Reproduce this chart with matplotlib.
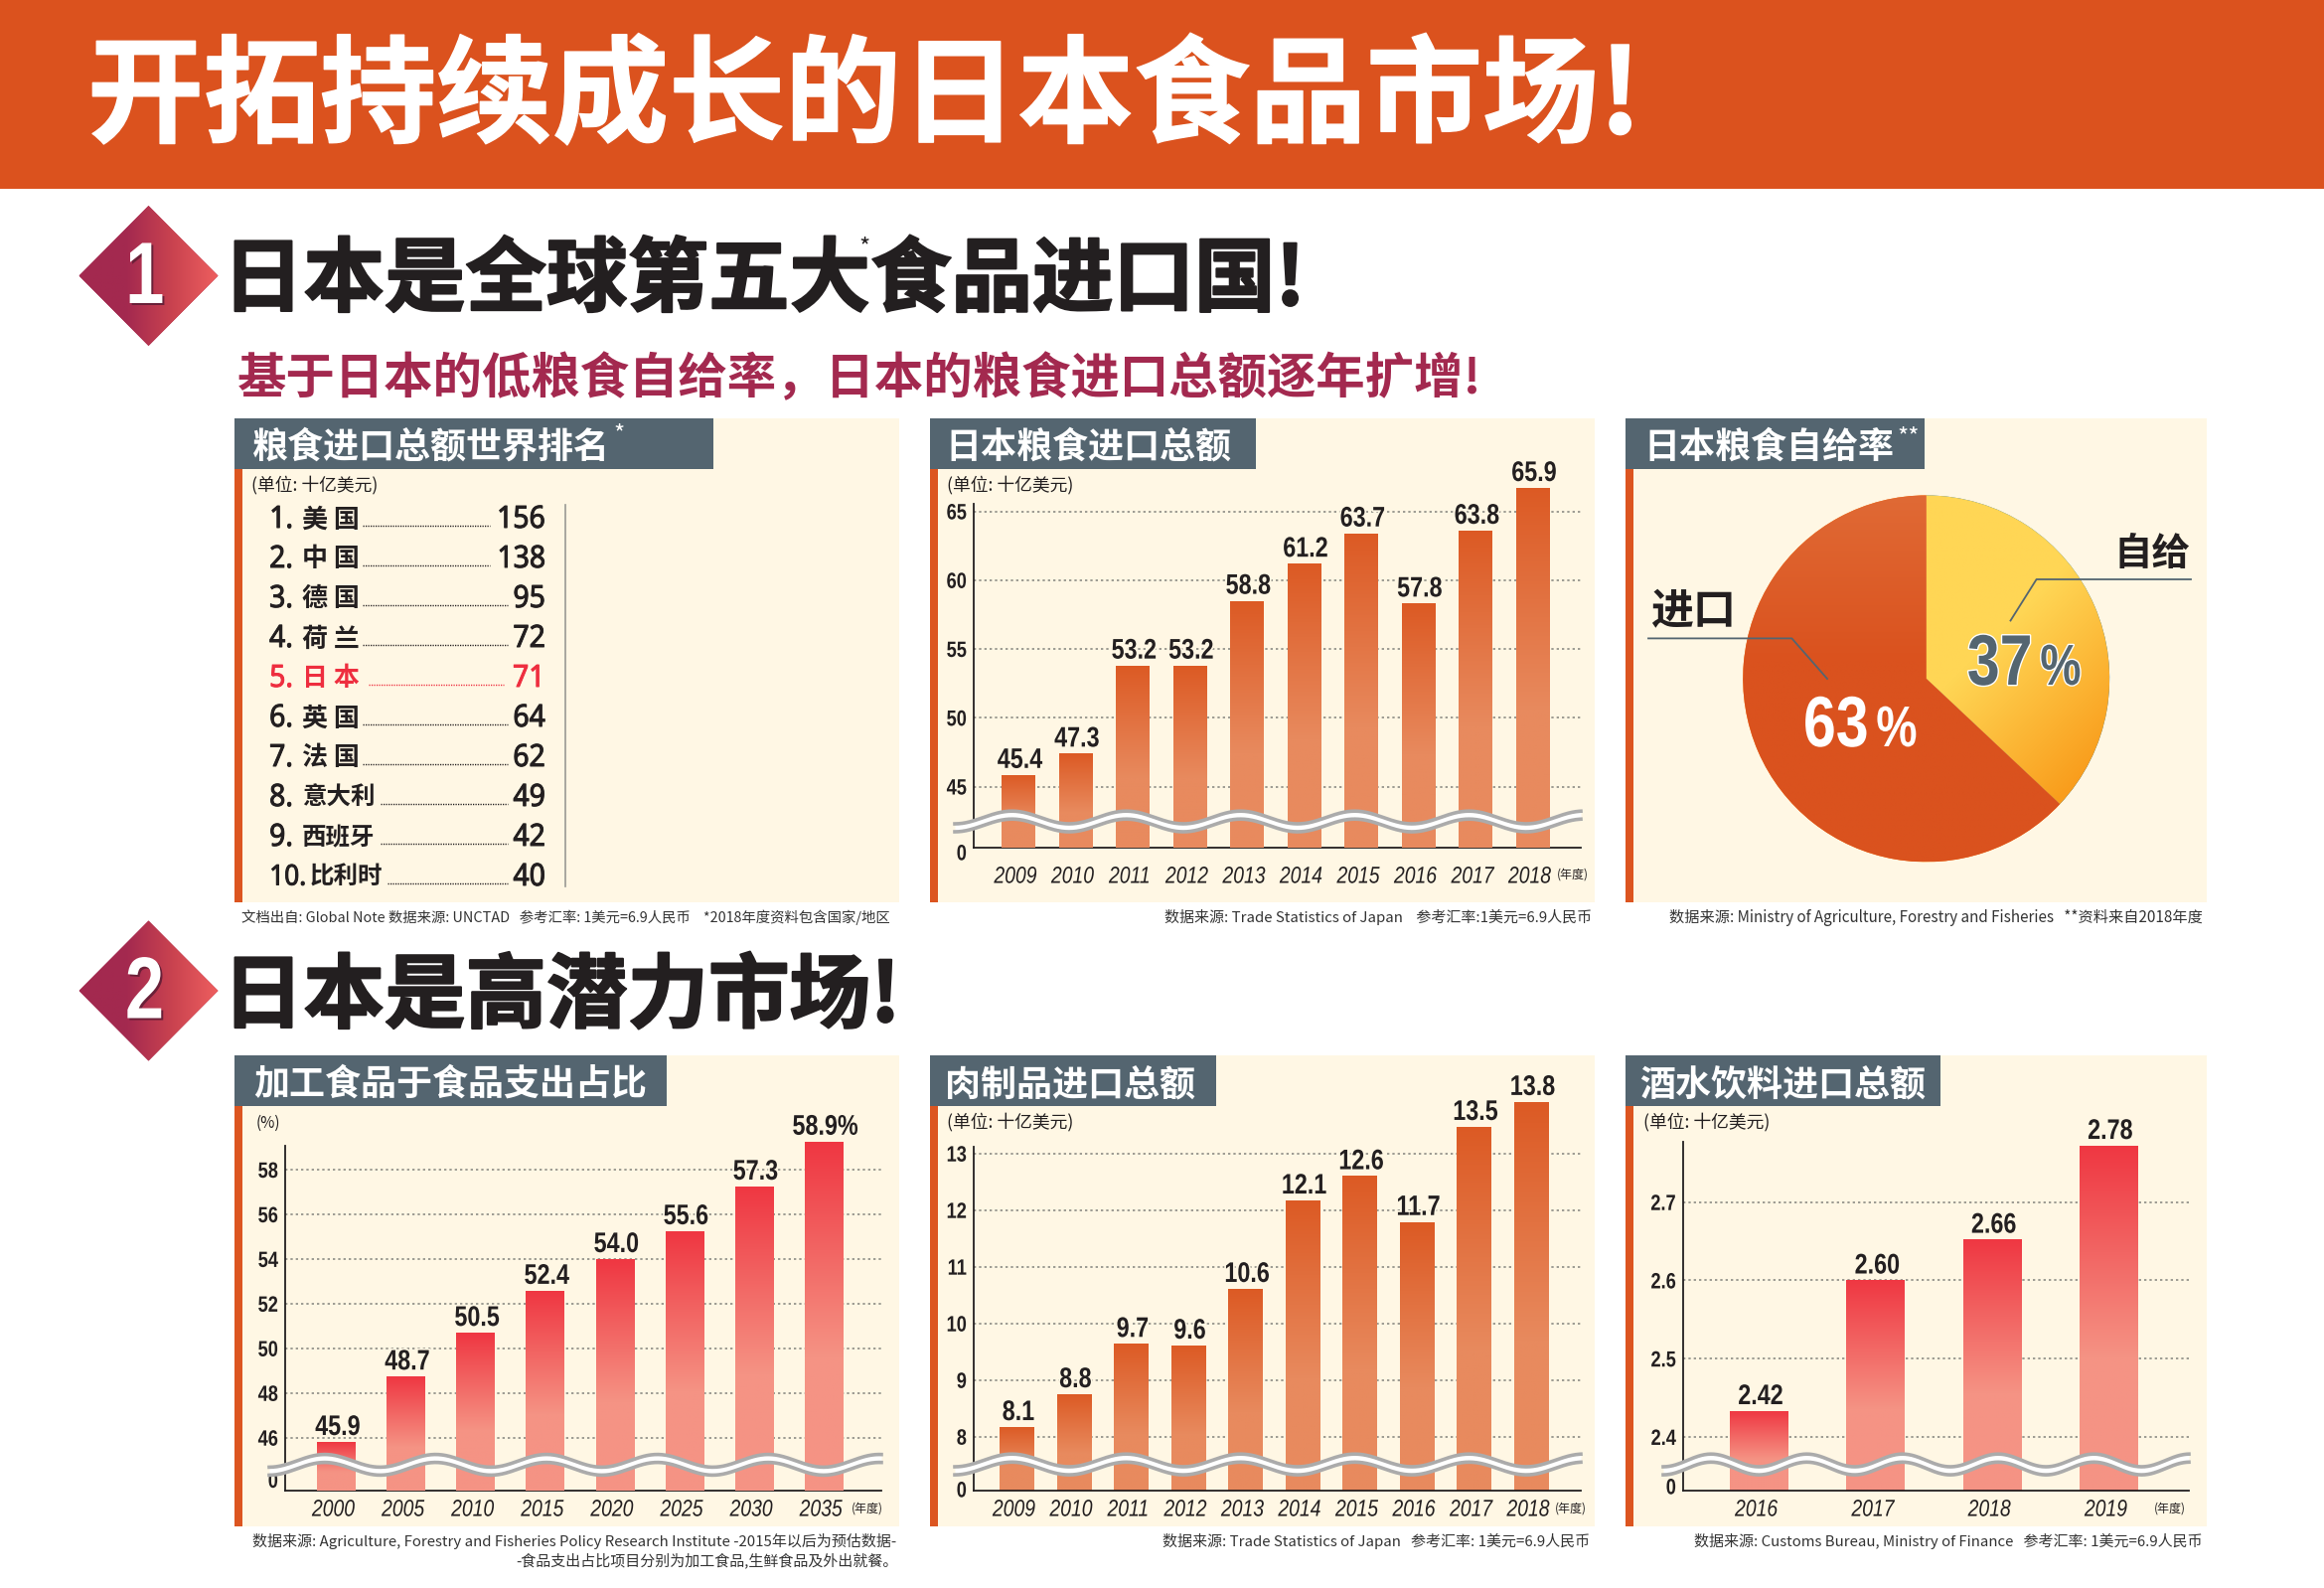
#!/usr/bin/env python3
"""Infographic: Japanese food market, six small panels on one page."""

import matplotlib

matplotlib.use("Agg")
import matplotlib.patheffects as pe
import matplotlib.pyplot as plt
import numpy as np
from matplotlib.colors import LinearSegmentedColormap, to_rgba
from matplotlib.patches import Polygon, Rectangle
from matplotlib.transforms import Affine2D

W, H = 2339, 1598
CJK = ["Noto Sans CJK SC", "DejaVu Sans"]
LIB = ["Liberation Sans", "Noto Sans CJK SC", "DejaVu Sans"]
LATIN = ["Noto Sans", "Noto Sans CJK SC", "DejaVu Sans"]
plt.rcParams["font.family"] = CJK

ORANGE = "#DC5520"
CREAM = "#FFF7E4"
SLATE = "#546570"
DARK = "#231F20"
WINE = "#A3294F"
RED = "#EE2E3F"
DOT_GREY = "#8C8C84"

# ranking panel
rank_labels = ["1.", "2.", "3.", "4.", "5.", "6.", "7.", "8.", "9.", "10."]
rank_names = ["美 国", "中 国", "德 国", "荷 兰", "日 本", "英 国", "法 国", "意大利", "西班牙", "比利时"]
rank_values = [156, 138, 95, 72, 71, 64, 62, 49, 42, 40]

# grain imports
grain_years = ["2009", "2010", "2011", "2012", "2013", "2014", "2015", "2016", "2017", "2018"]
grain_printed = ["45.4", "47.3", "53.2", "53.2", "58.8", "61.2", "63.7", "57.8", "63.8", "65.9"]
grain_bars = [45.85, 47.4, 53.8, 53.8, 58.5, 61.2, 63.4, 58.3, 63.6, 66.7]
grain_ticks = [45, 50, 55, 60, 65]

# self sufficiency
pie_values = [37, 63]

# processed food share
share_years = ["2000", "2005", "2010", "2015", "2020", "2025", "2030", "2035"]
share_printed = ["45.9", "48.7", "50.5", "52.4", "54.0", "55.6", "57.3", "58.9%"]
share_bars = [45.81, 48.74, 50.70, 52.58, 54.0, 55.25, 57.25, 59.26]
share_ticks = [46, 48, 50, 52, 54, 56, 58]

# meat imports
meat_years = grain_years
meat_printed = ["8.1", "8.8", "9.7", "9.6", "10.6", "12.1", "12.6", "11.7", "13.5", "13.8"]
meat_bars = [8.17, 8.75, 9.64, 9.61, 10.61, 12.17, 12.6, 11.79, 13.47, 13.91]
meat_ticks = [8, 9, 10, 11, 12, 13]

# drinks imports
drink_years = ["2016", "2017", "2018", "2019"]
drink_printed = ["2.42", "2.60", "2.66", "2.78"]
drink_bars = [2.433, 2.60, 2.652, 2.772]
drink_ticks = [2.4, 2.5, 2.6, 2.7]

fig = plt.figure(figsize=(W / 100, H / 100), dpi=100, facecolor="white")


class Squeeze(pe.AbstractPathEffect):
    """No condensed font is installed, so narrow the glyph outlines of the text instead."""

    def __init__(self, sx=0.82, anchor=0.5, stroke=None, stroke_lw=0, shadow=None):
        super().__init__()
        self.sx, self.anchor = sx, anchor
        self.stroke, self.stroke_lw, self.shadow = stroke, stroke_lw, shadow

    def draw_path(self, renderer, gc, tpath, affine, rgbFace=None):
        box = tpath.get_extents()
        cx = box.x0 + self.anchor * box.width
        t = Affine2D().translate(-cx, 0).scale(self.sx, 1).translate(cx, 0) + affine
        if self.shadow:
            gc0 = renderer.new_gc()
            gc0.copy_properties(gc)
            renderer.draw_path(gc0, tpath, t + Affine2D().translate(2, -2), to_rgba(self.shadow))
            gc0.restore()
        if self.stroke:
            gc0 = renderer.new_gc()
            gc0.copy_properties(gc)
            gc0.set_linewidth(self.stroke_lw)
            gc0.set_foreground(self.stroke)
            renderer.draw_path(gc0, tpath, t, to_rgba(self.stroke))
            gc0.restore()
        renderer.draw_path(gc, tpath, t, rgbFace)


def px_axes(x0, y0, x1, y1, zorder):
    ax = fig.add_axes([x0 / W, 1 - y1 / H, (x1 - x0) / W, (y1 - y0) / H], zorder=zorder)
    ax.patch.set_alpha(0)
    return ax


def page_axes(zorder):
    ax = px_axes(0, 0, W, H, zorder)
    ax.set_xlim(0, W)
    ax.set_ylim(H, 0)
    ax.axis("off")
    return ax


bg = page_axes(0)
top = page_axes(5)


def put(x, y, s, size_px, family=CJK, color=DARK, ha="left", va="center", weight="normal", **kw):
    return top.text(x, y, s, fontsize=size_px * 0.72, family=family, color=color, ha=ha, va=va,
                    fontweight=weight, **kw)


def panel(x0, x1, y0, y1, head_x1, head_y1, title, text_x):
    bg.add_patch(Rectangle((x0, y0), x1 - x0, y1 - y0, fc=CREAM, ec="none"))
    bg.add_patch(Rectangle((x0, y0), 8, y1 - y0, fc=ORANGE, ec="none"))
    bg.add_patch(Rectangle((x0, y0), head_x1 - x0, head_y1 - y0, fc=SLATE, ec="none"))
    put(text_x, (y0 + head_y1) / 2 + 4, title, 36, color="white", weight="bold")


def diamond(cy, digit):
    cx = 149.5
    pts = [(cx - 70, cy), (cx, cy - 70.5), (cx + 70, cy), (cx, cy + 70.5)]
    shape = Polygon(pts, closed=True, fc=WINE, ec="none", transform=bg.transData)
    bg.add_patch(shape)
    cmap = LinearSegmentedColormap.from_list("d", [WINE, WINE, "#C9424F", "#EE5F5F"])
    im = bg.imshow(np.linspace(0, 1, 128)[None, :], extent=(cx - 70, cx + 70, cy + 71, cy - 71),
                   cmap=cmap, aspect="auto", zorder=2)
    im.set_clip_path(shape)
    put(cx - 4, cy + 5, digit, 88, family=LIB, color="white", ha="center", weight="bold",
        path_effects=[Squeeze(0.8, shadow="#6a2038")])


def wave(x0, x1, y_up, y_low, period):
    xs = np.linspace(x0, x1, 500)
    bend = 6.4 * np.cos(2 * np.pi * (xs - x0) / period)
    top.fill_between(xs, y_up + bend, y_low + bend, color="white", lw=0)
    top.plot(xs, y_up + bend, color="#ABABAB", lw=2.6)
    top.plot(xs, y_low + bend, color="#ABABAB", lw=2.6)


def bar_chart(box, scale, tick_vals, bars, printed, years, cat, colors, year_pad=5.8, zero_up=0, year_shift=-3):
    """box = x0, x1, ytop, baseline, spine top (px); scale = base value, px per unit; cat = first centre, step, width (px)."""
    x0, x1, y_top, baseline, spine_top = box
    base, per_unit = scale
    first, step, width_px = cat
    ax = px_axes(x0, y_top, x1, baseline, 2)
    xlim = ((x0 - first) / step, (x1 - first) / step)
    ylim = (base, base + (baseline - y_top) / per_unit)

    xs = np.arange(len(bars))
    width = width_px / step
    cmap = LinearSegmentedColormap.from_list("b", colors)
    rects = ax.bar(xs, np.array(bars) - base, width, bottom=base, color=colors[0], zorder=2)
    for rect, val in zip(rects, bars):
        fade = np.clip(np.linspace(0, 1, 200) / 0.62, 0, 1)[:, None]
        im = ax.imshow(fade, extent=(rect.get_x(), rect.get_x() + width, base, val), origin="upper",
                       cmap=cmap, vmin=0, vmax=1, aspect="auto", zorder=3)
        im.set_clip_path(rect)

    for x, val, text in zip(xs, bars, printed):
        ax.annotate(text, (x, val), xytext=(1, 5), textcoords="offset points", ha="center", va="baseline",
                    fontsize=20.5, family=LIB, fontweight="bold", color=DARK, zorder=6,
                    annotation_clip=False,
                    path_effects=[Squeeze(0.82, stroke=CREAM, stroke_lw=2.5)])

    ax.hlines(tick_vals, xlim[0], xlim[1], color=DOT_GREY, lw=1.2, ls=(0, (1.4, 1.8)), zorder=1)
    ax.set_yticks(tick_vals, [str(t) for t in tick_vals])
    ax.set_xticks(xs + year_shift / step, years)
    ax.set_xlim(*xlim)
    ax.set_ylim(*ylim)
    ax.tick_params(axis="both", length=0)
    ax.tick_params(axis="y", pad=5)
    ax.tick_params(axis="x", pad=year_pad)
    for lab in ax.get_yticklabels():
        lab.set(fontsize=16, family=LIB, fontweight="bold", color=DARK, path_effects=[Squeeze(0.82, anchor=1)])
    for lab in ax.get_xticklabels():
        lab.set(fontsize=17, family=LIB, style="italic", color=DARK, path_effects=[Squeeze(0.82)])
    # the axis is broken, the foot of the scale reads 0 and its label sits a little off the line
    ax.annotate("0", (0, base), xycoords=("axes fraction", "data"), xytext=(-5, zero_up * 0.72),
                textcoords="offset points", ha="right", va="center", annotation_clip=False,
                fontsize=16, family=LIB, fontweight="bold", color=DARK, path_effects=[Squeeze(0.82, anchor=1)])
    for side in ("top", "right"):
        ax.spines[side].set_visible(False)
    for side in ("left", "bottom"):
        ax.spines[side].set_color(DARK)
        ax.spines[side].set_linewidth(1.3)
    ax.spines["left"].set_bounds(base, base + (baseline - spine_top) / per_unit)
    return ax


# top banner
bg.add_patch(Rectangle((0, 0), W, 190, fc="#DB521E", ec="none"))
put(88, 100, "开拓持续成长的日本食品市场!", 117, color="white", weight="bold",
    path_effects=[pe.withStroke(linewidth=1, foreground="white")])

# section heads
diamond(277.5, "1")
put(224, 283, "日本是全球第五大食品进口国!", 81.5, weight="bold",
    path_effects=[pe.withStroke(linewidth=1.5, foreground=DARK)])
put(864, 249, "*", 24)
put(239, 381, "基于日本的低粮食自给率\uff0c日本的粮食进口总额逐年扩增!", 49.4, color=WINE, weight="bold")
diamond(997, "2")
put(224, 1004, "日本是高潜力市场!", 81.5, weight="bold",
    path_effects=[pe.withStroke(linewidth=1.5, foreground=DARK)])

# panels
panel(236, 905, 421, 908, 718, 472, "粮食进口总额世界排名", 254)
put(617, 437, "*", 24, color="white")
panel(936, 1605, 421, 908, 1264, 472, "日本粮食进口总额", 951)
panel(1636, 2221, 421, 908, 1937, 472, "日本粮食自给率", 1654)
put(1921, 440, "**", 24, color="white", ha="center")
panel(236, 905, 1062, 1536, 671, 1113, "加工食品于食品支出占比", 255)
panel(936, 1605, 1062, 1536, 1224, 1113, "肉制品进口总额", 951)
panel(1636, 2221, 1062, 1536, 1953, 1113, "酒水饮料进口总额", 1650)

# ranking list
put(253, 488, "(单位: 十亿美元)", 17.8)
lead_start = [365, 365, 365, 365, 371, 365, 365, 383, 383, 390]
name_x = [304, 304, 304, 304, 304, 304, 304, 304, 304, 312]
for i, (rk, name, val) in enumerate(zip(rank_labels, rank_names, rank_values)):
    y = 523 + i * 40
    col = RED if i == 4 else DARK
    put(271, y, rk, 30.8 if i < 9 else 28.5, family=LATIN, color=col,
        path_effects=[Squeeze(0.92, anchor=0, stroke=col, stroke_lw=0.7)])
    put(name_x[i], y, name, 26 if i < 7 else 24.5, color=col, weight="bold")
    put(549, y, str(val), 30.8, family=LATIN, color=col, ha="right",
        path_effects=[Squeeze(0.92, anchor=1, stroke=col, stroke_lw=0.7)])
    lead_end = 493 if val > 99 else (507 if i == 4 else 511)
    top.plot([lead_start[i], lead_end], [y + 6, y + 6], color=col, lw=1, ls=(0, (0.9, 0.9)))
top.plot([569, 569], [508, 892], color="#9a9a94", lw=1.2)

# bar panels
ORANGE_BAR = ["#DC5A24", "#E88A5E"]
RED_BAR = ["#EF3742", "#F59384"]
bar_chart((980, 1591, 470, 853, 507), (40.56, 13.85), grain_ticks, grain_bars, grain_printed, grain_years,
          (1025, 57.5, 34), ORANGE_BAR, year_pad=12.6, zero_up=-7)
bar_chart((287, 887, 1090, 1499.5, 1153), (43.65, 22.47), share_ticks, share_bars, share_printed, share_years,
          (338.5, 70.1, 38.8), RED_BAR, zero_up=8)
bar_chart((980, 1591, 1090, 1499.5, 1153.5), (7.056, 57.0), meat_ticks, meat_bars, meat_printed, meat_years,
          (1023.5, 57.5, 35), ORANGE_BAR, zero_up=-1.5)
bar_chart((1694, 2203, 1090, 1499.5, 1148.6), (2.332, 787.5), drink_ticks, drink_bars, drink_printed, drink_years,
          (1770.6, 117.3, 59), RED_BAR, zero_up=1.5)

wave(961, 1591, 822.6, 830.6, 115)
wave(271, 887, 1470, 1478, 111.6)
wave(961, 1591, 1469.6, 1477.7, 115)
wave(1674, 2203, 1469.6, 1477.7, 96.3)

put(953, 488, "(单位: 十亿美元)", 17.8)
put(953, 1129, "(单位: 十亿美元)", 17.8)
put(1654, 1129, "(单位: 十亿美元)", 17.8)
put(270, 1130, "(%)", 15.5, ha="center")
put(1583, 880, "(年度)", 12, ha="center")
put(873, 1518, "(年度)", 12, ha="center")
put(1581, 1518, "(年度)", 12, ha="center")
put(2183.5, 1518, "(年度)", 12, ha="center")

# pie
pie_ax = px_axes(1938.7 - 230.6, 682.9 - 230.6, 1938.7 + 230.6, 682.9 + 230.6, 2)
wedges, _ = pie_ax.pie(pie_values, startangle=90, counterclock=False, radius=1)
gx, gy = np.meshgrid(np.linspace(-1, 1, 300), np.linspace(-1, 1, 300))
fade_y = np.clip((gx - gy - 0.15) / 1.25, 0, 1)
fade_o = np.clip((gy - 0.1) / 0.9, 0, 1)
im_y = pie_ax.imshow(fade_y, extent=(-1, 1, -1, 1), origin="lower", aspect="auto", vmin=0, vmax=1, zorder=3,
                     cmap=LinearSegmentedColormap.from_list("y", ["#FFD655", "#F99D1C"]))
im_o = pie_ax.imshow(fade_o, extent=(-1, 1, -1, 1), origin="lower", aspect="auto", vmin=0, vmax=1, zorder=3,
                     cmap=LinearSegmentedColormap.from_list("o", ["#DA521E", "#E06A35"]))
im_y.set_clip_path(wedges[0])
im_o.set_clip_path(wedges[1])
pie_ax.set_xlim(-1.25, 1.25)
pie_ax.set_ylim(-1.25, 1.25)

top.plot([2205, 2049.6, 2023.5], [583, 583, 624.5], color=SLATE, lw=1.3)
top.plot([1659, 1803.4, 1839], [642.4, 642.4, 683], color=SLATE, lw=1.3)
put(2165.6, 558, "自给", 38.5, ha="center", weight="bold")
put(1704, 615, "进口", 43, ha="center", weight="bold")
put(2046, 689, "37", 72, family=LIB, color=SLATE, ha="right", va="baseline", weight="bold",
    path_effects=[Squeeze(0.82, anchor=1, stroke="white", stroke_lw=2)])
put(2053, 689, "%", 58, family=LIB, color=SLATE, va="baseline", weight="bold",
    path_effects=[Squeeze(0.8, anchor=0, stroke="white", stroke_lw=2)])
put(1881, 751, "63", 72, family=LIB, color="white", ha="right", va="baseline", weight="bold",
    path_effects=[Squeeze(0.82, anchor=1)])
put(1888, 751, "%", 58, family=LIB, color="white", va="baseline", weight="bold",
    path_effects=[Squeeze(0.8, anchor=0)])

# source notes
note = dict(size_px=15, color="#333333")
put(243, 923, "文档出自: Global Note 数据来源: UNCTAD   参考汇率: 1美元=6.9人民币    *2018年度资料包含国家/地区",
    size_px=14.4, color="#333333")
put(1602, 923, "数据来源: Trade Statistics of Japan    参考汇率:1美元=6.9人民币", ha="right", **note)
put(2217, 923, "数据来源: Ministry of Agriculture, Forestry and Fisheries   **资料来自2018年度", ha="right",
    size_px=15.2, color="#333333")
put(902, 1551, "数据来源: Agriculture, Forestry and Fisheries Policy Research Institute -2015年以后为预估数据-", ha="right", **note)
put(904, 1570, "-食品支出占比项目分别为加工食品,生鲜食品及外出就餐。", ha="right", **note)
put(1600, 1551, "数据来源: Trade Statistics of Japan   参考汇率: 1美元=6.9人民币", ha="right", **note)
put(2217, 1551, "数据来源: Customs Bureau, Ministry of Finance   参考汇率: 1美元=6.9人民币", ha="right", **note)

fig.savefig("out.png", dpi=100)
